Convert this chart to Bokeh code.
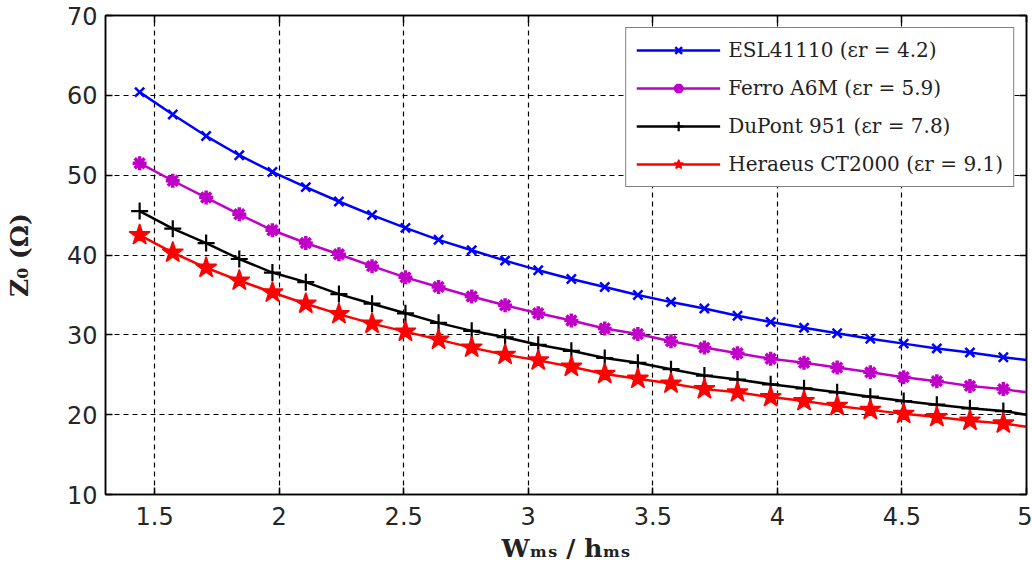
from bokeh.plotting import figure
from bokeh.models import (Legend, LegendItem, LinearAxis, FixedTicker, Range1d,
                          CustomLabelingPolicy)
from bokeh.core.properties import value
from bokeh.embed import file_html
from bokeh.resources import INLINE

# ---------------- data ----------------
w_over_h = [1.44, 1.573, 1.707, 1.84, 1.973, 2.107, 2.24, 2.373, 2.507, 2.64,
            2.773, 2.907, 3.04, 3.173, 3.307, 3.44, 3.573, 3.707, 3.84, 3.973,
            4.107, 4.24, 4.373, 4.507, 4.64, 4.773, 4.907, 5.0]
esl41110 = [60.4, 57.6, 54.9, 52.5, 50.4, 48.5, 46.7, 45.0, 43.4, 41.9,
            40.6, 39.3, 38.1, 37.0, 36.0, 35.0, 34.1, 33.3, 32.4, 31.6,
            30.9, 30.2, 29.5, 28.9, 28.3, 27.8, 27.2, 26.85]
ferro_a6m = [51.5, 49.3, 47.2, 45.1, 43.1, 41.5, 40.1, 38.6, 37.2, 36.0,
             34.8, 33.7, 32.7, 31.8, 30.8, 30.1, 29.2, 28.4, 27.7, 27.0,
             26.5, 25.9, 25.3, 24.7, 24.2, 23.6, 23.2, 22.8]
dupont_951 = [45.5, 43.3, 41.5, 39.5, 37.8, 36.6, 35.1, 33.9, 32.7, 31.5,
              30.5, 29.7, 28.75, 28.0, 27.1, 26.5, 25.7, 24.9, 24.4, 23.8,
              23.3, 22.8, 22.25, 21.7, 21.25, 20.8, 20.45, 20.0]
heraeus_ct2000 = [42.5, 40.3, 38.4, 36.8, 35.3, 33.9, 32.6, 31.4, 30.4, 29.4,
                  28.4, 27.5, 26.8, 26.0, 25.1, 24.5, 23.9, 23.2, 22.8, 22.2,
                  21.7, 21.1, 20.6, 20.1, 19.7, 19.25, 18.9, 18.5]
series_names = ["ESL41110 (\u03b5r = 4.2)", "Ferro A6M (\u03b5r = 5.9)",
                "DuPont 951 (\u03b5r = 7.8)", "Heraeus CT2000 (\u03b5r = 9.1)"]
x_ticks = [1.5, 2.0, 2.5, 3.0, 3.5, 4.0, 4.5, 5.0]
x_tick_labels = ["1.5", "2", "2.5", "3", "3.5", "4", "4.5", "5"]
y_ticks = [10, 20, 30, 40, 50, 60, 70]
y_tick_labels = ["10", "20", "30", "40", "50", "60", "70"]
x_title = "W\u2098\u209b / h\u2098\u209b"
y_title = "Z\u2080 (\u03a9)"

# ---------------- layout ----------------
W, H = 1032, 586
FL, FR, FT, FB = 105, 1026, 15, 494   # frame edges in pixels

p = figure(width=W, height=H, x_range=Range1d(1.303, 5.0), y_range=Range1d(10, 70),
           output_backend="svg", toolbar_location=None,
           min_border_left=FL, min_border_right=W - FR,
           min_border_top=FT, min_border_bottom=H - FB)
p.background_fill_color = "white"
p.border_fill_color = "white"
p.outline_line_color = "black"
p.outline_line_width = 1.5

for ax, ticks, labels in ((p.xaxis, x_ticks, x_tick_labels), (p.yaxis, y_ticks, y_tick_labels)):
    ax.ticker = FixedTicker(ticks=ticks)
    ax.major_label_overrides = dict(zip(ticks, labels))
    ax.major_tick_in = 7
    ax.major_tick_out = 0
    ax.minor_tick_in = 0
    ax.minor_tick_out = 0
    ax.axis_line_color = "black"
    ax.axis_line_width = 1.5
    ax.major_tick_line_color = "black"
    ax.major_tick_line_width = 1.5
    ax.major_label_text_font = "DejaVu Sans"
    ax.major_label_text_font_size = "24px"
    ax.major_label_text_color = "#262626"
    ax.axis_label_text_font = "DejaVu Serif"
    ax.axis_label_text_font_style = "bold"
    ax.axis_label_text_font_size = "25px"
    ax.axis_label_text_color = "#222222"
p.xaxis.major_label_standoff = 12
p.yaxis.major_label_standoff = 8
p.xaxis.axis_label = x_title
p.yaxis.axis_label = y_title
p.xaxis.axis_label_standoff = 6
p.yaxis.axis_label_standoff = 30

no_labels = CustomLabelingPolicy(code="return new Set()")
for ticks, place in ((x_ticks, "above"), (y_ticks, "right")):
    a = LinearAxis(ticker=FixedTicker(ticks=ticks), major_label_policy=no_labels,
                   major_label_text_font_size="1px",
                   major_label_standoff=0, major_tick_in=7, major_tick_out=0,
                   minor_tick_in=0, minor_tick_out=0, axis_line_color="black",
                   axis_line_width=1.5, major_tick_line_color="black",
                   major_tick_line_width=1.5)
    p.add_layout(a, place)

for g, ticks in ((p.xgrid, x_ticks), (p.ygrid, y_ticks)):
    g.ticker = FixedTicker(ticks=ticks)
    g.grid_line_color = "black"
    g.grid_line_dash = "5 4"
    g.grid_line_width = 1.2
    g.grid_line_alpha = 1.0

# ---------------- series ----------------
styles = [
    dict(color="#0000ff", marker="x", size=13, lw=2.5, fill=None),
    dict(color="#c000c8", marker="asterisk", size=14, lw=3.5, fill=None),
    dict(color="#000000", marker="cross", size=17, lw=2.2, fill=None),
    dict(color="#ff0000", marker="star", size=22, lw=1.5, fill="#ff0000"),
]
items = []
for ys, name, st in zip([esl41110, ferro_a6m, dupont_951, heraeus_ct2000], series_names, styles):
    lr = p.line(w_over_h, ys, line_color=st["color"], line_width=2.5)
    sr = p.scatter(w_over_h[:-1], ys[:-1], marker=st["marker"], size=st["size"],
                   line_color=st["color"], line_width=st["lw"],
                   fill_color=st["fill"] if st["fill"] else None)
    items.append(LegendItem(label=value(name), renderers=[lr, sr]))

legend = Legend(items=items, location="top_right", margin=12, padding=10, spacing=14,
                glyph_width=84, glyph_height=24, label_height=24, label_standoff=8,
                label_text_font="DejaVu Serif", label_text_font_size="20px",
                label_text_color="#222222", border_line_color="black",
                border_line_width=1.2, background_fill_color="white",
                background_fill_alpha=1.0)
p.add_layout(legend)

open("out.html", "w").write(file_html(p, INLINE))
